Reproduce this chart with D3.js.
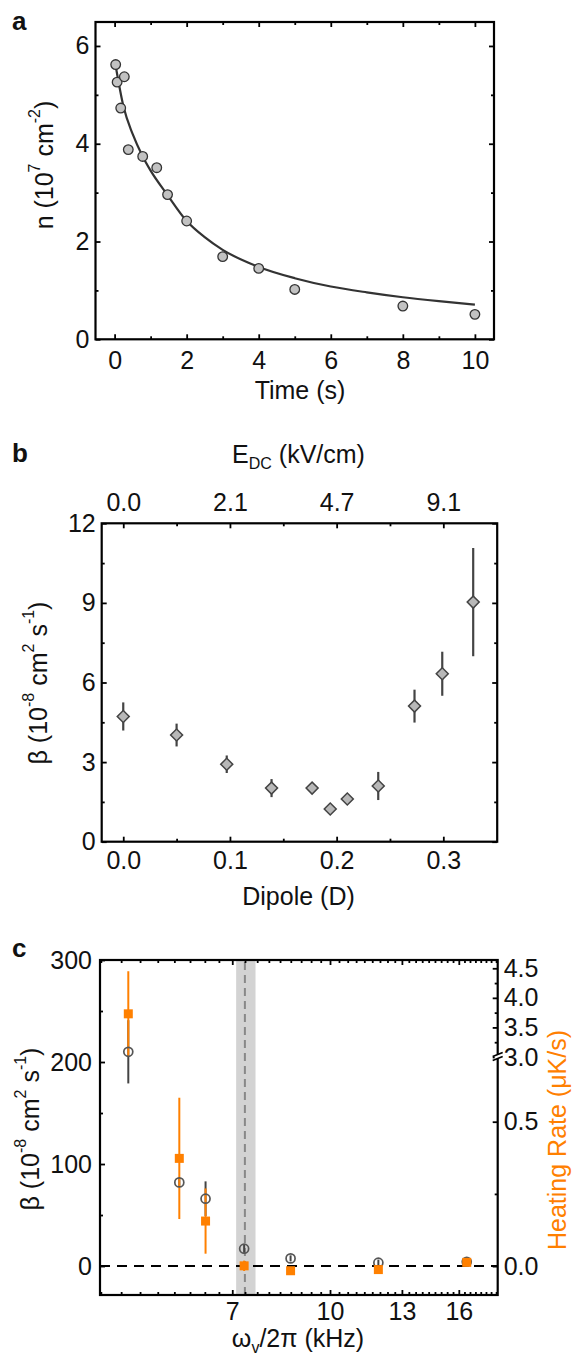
<!DOCTYPE html>
<html>
<head>
<meta charset="utf-8">
<script src="https://cdn.jsdelivr.net/npm/d3@7"></script>
<style>
  body { margin: 0; background: #fff; }
  svg text { font-family: "Liberation Sans", Arial, Helvetica, sans-serif; font-size: 25px; fill: #111; }
</style>
</head>
<body>
<div class="svg-div"></div>
<script>
// ---- panel a: density decay ----
var timeVals = [0.03, 0.07, 0.17, 0.27, 0.38, 0.78, 1.17, 1.47, 2, 3, 4, 5, 8, 10];
var densVals = [5.62, 5.26, 4.73, 5.37, 3.88, 3.74, 3.51, 2.96, 2.42, 1.69, 1.45, 1.02, 0.68, 0.51];
// fit line
var fitTime = [0.04, 0.25, 0.5, 0.78, 1, 1.46, 2, 2.5, 3, 4, 5, 6, 7, 8, 9, 10];
var fitDens = [5.55, 4.75, 4.2, 3.74, 3.45, 2.96, 2.42, 2.09, 1.83, 1.48, 1.25, 1.08, 0.96, 0.86, 0.78, 0.71];
var aTicksX = [0, 2, 4, 6, 8, 10];
var aMinorX = [1, 3, 5, 7, 9];
var aTicksY = [0, 2, 4, 6];
var aMinorY = [1, 3, 5];

// ---- panel b: beta vs dipole ----
var dipoleVals = [0, 0.05, 0.097, 0.139, 0.177, 0.194, 0.21, 0.239, 0.273, 0.299, 0.328];
var betaVals = [4.72, 4.02, 2.92, 2.02, 2.02, 1.23, 1.61, 2.1, 5.11, 6.33, 9.03];
var betaErr = [0.53, 0.43, 0.33, 0.34, 0.12, 0.1, 0.12, 0.53, 0.62, 0.83, 2.04];
var bTicksX = [0, 0.1, 0.2, 0.3];
var bLabelsX = ["0.0", "0.1", "0.2", "0.3"];
var bLabelsTop = ["0.0", "2.1", "4.7", "9.1"];
var bMinorX = [0.05, 0.15, 0.25];
var bTicksY = [0, 3, 6, 9, 12];
var bMinorY = [1.5, 4.5, 7.5, 10.5];

// ---- panel c: beta and heating rate vs trap frequency ----
var freqVals = [4.79, 5.77, 6.35, 7.31, 8.66, 11.93, 16.47];
var betaC = [210, 82, 66, 17, 7.5, 3.3, 4.2];
var betaCErr = [31, 4, 17, 4, 3, 3, 3];
var heatVals = [3.73, 0.373, 0.156, 0.001, -0.016, -0.012, 0.013];
var heatErr = [0.72, 0.21, 0.113, 0.018, 0.008, 0.008, 0.008];
var bandLo = 7.1, bandHi = 7.62, bandMid = 7.33;
var cTicksX = [7, 10, 13, 16];
var cTicksY = [0, 100, 200, 300];
var cMinorY = [50, 150, 250];
var cTicksR = [0, 0.5, 3.0, 3.5, 4.0, 4.5];
var cLabelsR = ["0.0", "0.5", "3.0", "3.5", "4.0", "4.5"];
var cMinorR = [0.25, 3.25, 3.75, 4.25];

var orange = "#ff8000";

var svg = d3.select(".svg-div")
  .append("svg")
    .attr("width", 572)
    .attr("height", 1357)
    .style("display", "block");

function ticks(g, axis, scale, vals, len, pad, labels, x0, y0) {
  var ax = axis(scale)
    .tickValues(vals)
    .tickSize(-len)
    .tickPadding(pad)
    .tickFormat(function(d, i) { return labels ? labels[i] : ""; });
  var a = g.append("g")
    .attr("transform", "translate(" + x0 + "," + y0 + ")")
    .call(ax);
  a.select(".domain").remove();
  a.attr("font-size", null).attr("font-family", null);
  a.selectAll(".tick line").attr("stroke", "#000").attr("stroke-width", 1.8);
  a.selectAll(".tick text").attr("fill", "#111");
  return a;
}

function frame(g, w, h) {
  g.append("rect")
    .attr("width", w)
    .attr("height", h)
    .attr("fill", "none")
    .attr("stroke", "#000")
    .attr("stroke-width", 2.2);
}

function panelLetter(t, x, y) {
  svg.append("text")
    .attr("x", x).attr("y", y)
    .style("font-size", "26px")
    .style("font-weight", "bold")
    .text(t);
}

// title made of pieces [text, shift] (shift: 0 normal, 1 super, -1 sub)
function richText(el, parts) {
  var cur = 0;
  parts.forEach(function(p) {
    var target = p[1] === 1 ? -10 : (p[1] === -1 ? 6 : 0);
    el.append("tspan")
      .attr("dy", target - cur)
      .attr("font-size", p[1] === 0 ? 25 : 16)
      .text(p[0]);
    cur = target;
  });
}

// =================== a ===================
var aW = 398.5, aH = 317.3;
var ga = svg.append("g").attr("transform", "translate(95.5,22)");
var xa = d3.scaleLinear().domain([-0.53, 10.53]).range([0, aW]);
var ya = d3.scaleLinear().domain([0, 6.49]).range([aH, 0]);

ticks(ga, d3.axisBottom, xa, aTicksX, 5, 12, aTicksX.map(String), 0, aH);
ticks(ga, d3.axisBottom, xa, aMinorX, 3, 0, null, 0, aH);
ticks(ga, d3.axisTop, xa, aTicksX, 5, 0, null, 0, 0);
ticks(ga, d3.axisTop, xa, aMinorX, 3, 0, null, 0, 0);
ticks(ga, d3.axisLeft, ya, aTicksY, 5, 6, aTicksY.map(String), 0, 0);
ticks(ga, d3.axisLeft, ya, aMinorY, 3, 0, null, 0, 0);
ticks(ga, d3.axisRight, ya, aTicksY, 5, 0, null, aW, 0);
ticks(ga, d3.axisRight, ya, aMinorY, 3, 0, null, aW, 0);

var fitLine = d3.line()
  .x(function(d) { return xa(d[0]); })
  .y(function(d) { return ya(d[1]); })
  .curve(d3.curveMonotoneX);

ga.append("path")
  .datum(fitTime.map(function(t, i) { return [t, fitDens[i]]; }))
  .attr("d", fitLine)
  .attr("fill", "none")
  .attr("stroke", "#333")
  .attr("stroke-width", 2.2);

ga.selectAll(".pt")
  .data(timeVals)
  .enter()
  .append("circle")
    .attr("cx", function(d) { return xa(d); })
    .attr("cy", function(d, i) { return ya(densVals[i]); })
    .attr("r", 4.8)
    .attr("fill", "#c2c2c2")
    .attr("stroke", "#333")
    .attr("stroke-width", 1.3);

frame(ga, aW, aH);
panelLetter("a", 12, 30);

svg.append("text")
  .attr("x", 300).attr("y", 399)
  .attr("text-anchor", "middle")
  .text("Time (s)");

var ta = svg.append("text")
  .attr("text-anchor", "middle")
  .attr("dominant-baseline", "central")
  .attr("transform", "translate(44,165) rotate(-90)");
richText(ta, [["n (10", 0], ["7", 1], [" cm", 0], ["-2", 1], [")", 0]]);

// =================== b ===================
var bW = 395.5, bH = 318.4;
var gb = svg.append("g").attr("transform", "translate(101.7,523.3)");
var xb = d3.scaleLinear().domain([-0.0202, 0.3505]).range([0, bW]);
var yb = d3.scaleLinear().domain([0, 12]).range([bH, 0]);

ticks(gb, d3.axisBottom, xb, bTicksX, 5, 9.5, bLabelsX, 0, bH);
ticks(gb, d3.axisBottom, xb, bMinorX, 3, 0, null, 0, bH);
ticks(gb, d3.axisTop, xb, bTicksX, 5, 12, bLabelsTop, 0, 0);
ticks(gb, d3.axisTop, xb, bMinorX, 3, 0, null, 0, 0);
ticks(gb, d3.axisLeft, yb, bTicksY, 5, 6, bTicksY.map(String), 0, 0);
ticks(gb, d3.axisLeft, yb, bMinorY, 3, 0, null, 0, 0);
ticks(gb, d3.axisRight, yb, bTicksY, 5, 0, null, bW, 0);
ticks(gb, d3.axisRight, yb, bMinorY, 3, 0, null, bW, 0);

gb.selectAll(".err")
  .data(dipoleVals)
  .enter()
  .append("line")
    .attr("x1", function(d) { return xb(d); })
    .attr("x2", function(d) { return xb(d); })
    .attr("y1", function(d, i) { return yb(betaVals[i] + betaErr[i]); })
    .attr("y2", function(d, i) { return yb(betaVals[i] - betaErr[i]); })
    .attr("stroke", "#444")
    .attr("stroke-width", 2.2);

gb.selectAll(".dia")
  .data(dipoleVals)
  .enter()
  .append("path")
    .attr("d", d3.symbol(d3.symbolSquare, 72))
    .attr("transform", function(d, i) {
      return "translate(" + xb(d) + "," + yb(betaVals[i]) + ") rotate(45)";
    })
    .attr("fill", "#b8b8b8")
    .attr("stroke", "#444")
    .attr("stroke-width", 1.5);

frame(gb, bW, bH);
panelLetter("b", 12, 462);

var te = svg.append("text")
  .attr("x", 298.5).attr("y", 463)
  .attr("text-anchor", "middle");
richText(te, [["E", 0], ["DC", -1], [" (kV/cm)", 0]]);

svg.append("text")
  .attr("x", 298.5).attr("y", 905)
  .attr("text-anchor", "middle")
  .text("Dipole (D)");

var tb = svg.append("text")
  .attr("text-anchor", "middle")
  .attr("dominant-baseline", "central")
  .attr("transform", "translate(37.5,683) rotate(-90)");
richText(tb, [["\u03b2 (10", 0], ["-8", 1], [" cm", 0], ["2", 1], [" s", 0], ["-1", 1], [")", 0]]);

// =================== c ===================
var cW = 397.7, cH = 335;
var gc = svg.append("g").attr("transform", "translate(100,960)");
var xc = d3.scaleLog().domain([4.32, 18.44]).range([0, cW]);
var yc = d3.scaleLinear().domain([-28.4, 300]).range([cH, 0]);
// broken right axis: 0..0.72 below the break, 3.0..4.64 above it
var yr = d3.scaleLinear().domain([-0.1, 0.724, 3.0, 4.64]).range([cH, 97, 97, 0]);

var cMinorX = d3.range(13, 56).map(function(k) { return k / 3; })
  .filter(function(v) { return v > 4.32 && v < 18.44 && cTicksX.indexOf(Math.round(v * 3) / 3) < 0; });

// shaded trap-frequency band
gc.append("rect")
  .attr("x", xc(bandLo))
  .attr("width", xc(bandHi) - xc(bandLo))
  .attr("y", 0)
  .attr("height", cH)
  .attr("fill", "#d3d3d3");
gc.append("line")
  .attr("x1", xc(bandMid)).attr("x2", xc(bandMid))
  .attr("y1", 2).attr("y2", cH)
  .attr("stroke", "#888")
  .attr("stroke-width", 2)
  .attr("stroke-dasharray", "8,5");

gc.append("line")
  .attr("x1", 0).attr("x2", cW)
  .attr("y1", yc(0)).attr("y2", yc(0))
  .attr("stroke", "#000")
  .attr("stroke-width", 2)
  .attr("stroke-dasharray", "10,7");

ticks(gc, d3.axisBottom, xc, cTicksX, 5, 7, cTicksX.map(String), 0, cH);
ticks(gc, d3.axisBottom, xc, cMinorX, 3, 0, null, 0, cH);
ticks(gc, d3.axisTop, xc, cTicksX, 5, 0, null, 0, 0);
ticks(gc, d3.axisTop, xc, cMinorX, 3, 0, null, 0, 0);
ticks(gc, d3.axisLeft, yc, cTicksY, 5, 8, cTicksY.map(String), 0, 0);
ticks(gc, d3.axisLeft, yc, cMinorY, 3, 0, null, 0, 0);
ticks(gc, d3.axisRight, yr, cTicksR, 5, 6, cLabelsR, cW, 0);
ticks(gc, d3.axisRight, yr, cMinorR, 3, 0, null, cW, 0);

// beta error bars
gc.selectAll(".gerr")
  .data(freqVals)
  .enter()
  .append("line")
    .attr("x1", function(d) { return xc(d); })
    .attr("x2", function(d) { return xc(d); })
    .attr("y1", function(d, i) { return yc(betaC[i] + betaCErr[i]); })
    .attr("y2", function(d, i) { return yc(betaC[i] - betaCErr[i]); })
    .attr("stroke", "#444")
    .attr("stroke-width", 2);

// heating rate error bars
gc.selectAll(".oerr")
  .data(freqVals)
  .enter()
  .append("line")
    .attr("x1", function(d) { return xc(d); })
    .attr("x2", function(d) { return xc(d); })
    .attr("y1", function(d, i) { return yr(heatVals[i] + heatErr[i]); })
    .attr("y2", function(d, i) { return yr(heatVals[i] - heatErr[i]); })
    .attr("stroke", orange)
    .attr("stroke-width", 2);

gc.selectAll(".gpt")
  .data(freqVals)
  .enter()
  .append("circle")
    .attr("cx", function(d) { return xc(d); })
    .attr("cy", function(d, i) { return yc(betaC[i]); })
    .attr("r", 4.5)
    .attr("fill", "none")
    .attr("stroke", "#555")
    .attr("stroke-width", 1.7);

gc.selectAll(".opt")
  .data(freqVals)
  .enter()
  .append("path")
    .attr("d", d3.symbol(d3.symbolSquare, 81))
    .attr("transform", function(d, i) {
      return "translate(" + xc(d) + "," + yr(heatVals[i]) + ")";
    })
    .attr("fill", orange);

frame(gc, cW, cH);

// axis break marks
var brk = gc.append("g").attr("transform", "translate(" + cW + "," + yr(3.0) + ")");
brk.append("rect").attr("x", -3).attr("y", -3).attr("width", 6).attr("height", 5).attr("fill", "#fff");
[-2.5, 1.5].forEach(function(o) {
  brk.append("line")
    .attr("x1", -5).attr("y1", o + 2)
    .attr("x2", 5).attr("y2", o - 2)
    .attr("stroke", "#000")
    .attr("stroke-width", 1.6);
});

panelLetter("c", 12, 957);

var tx = svg.append("text")
  .attr("x", 298).attr("y", 1347)
  .attr("text-anchor", "middle");
richText(tx, [["\u03c9", 0], ["v", -1], ["/2\u03c0 (kHz)", 0]]);

var tc = svg.append("text")
  .attr("text-anchor", "middle")
  .attr("dominant-baseline", "central")
  .attr("transform", "translate(29.5,1129) rotate(-90)");
richText(tc, [["\u03b2 (10", 0], ["-8", 1], [" cm", 0], ["2", 1], [" s", 0], ["-1", 1], [")", 0]]);

svg.append("text")
  .attr("text-anchor", "middle")
  .attr("dominant-baseline", "central")
  .attr("transform", "translate(557,1140) rotate(-90)")
  .style("fill", orange)
  .text("Heating Rate (\u03bcK/s)");
</script>
</body>
</html>
